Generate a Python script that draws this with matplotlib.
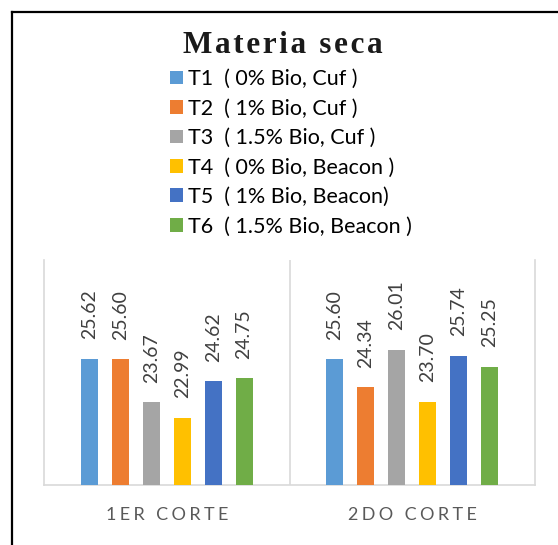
import matplotlib
matplotlib.use("Agg")
import matplotlib.pyplot as plt
from matplotlib.patches import Patch
from matplotlib.lines import Line2D
import numpy as np

CATEGORIES = ["1ER CORTE", "2DO CORTE"]
SERIES = [
    "T1  ( 0% Bio, Cuf )",
    "T2  ( 1% Bio, Cuf )",
    "T3  ( 1.5% Bio, Cuf )",
    "T4  ( 0% Bio, Beacon )",
    "T5  ( 1% Bio, Beacon)",
    "T6  ( 1.5% Bio, Beacon )",
]
VALUES = [
    [25.62, 25.60],
    [25.60, 24.34],
    [23.67, 26.01],
    [22.99, 23.70],
    [24.62, 25.74],
    [24.75, 25.25],
]
COLORS = ["#5B9BD5", "#ED7D31", "#A5A5A5", "#FFC000", "#4472C4", "#70AD47"]

FONT = "Lato"
GRID = "#D9D9D9"


def spaced(s, sep="\u2009"):
    return sep.join(s)


fig = plt.figure(figsize=(5.58, 5.45), dpi=100)
fig.patch.set_facecolor("white")
ax = fig.add_axes([0.0789, 0.1101, 0.8799, 0.4128])

x = np.arange(len(CATEGORIES))
pitch = 0.126
width = 0.069
for i, (vals, color) in enumerate(zip(VALUES, COLORS)):
    bars = ax.bar(x + (i - 2.5) * pitch, vals, width, color=color, zorder=3)
    ax.bar_label(bars, labels=[f"{v:.2f}" for v in vals], rotation=90,
                 padding=14, fontsize=14, family=FONT, color="#404040")

ax.set_xlim(-0.5, 1.5)
ax.set_ylim(20, 30)
ax.set_yticks([])
ax.set_xticks(x)
ax.set_xticklabels([spaced(c, "\u2009\u200a") for c in CATEGORIES], family=FONT,
                   fontsize=13, color="#595959")
ax.tick_params(axis="x", length=0, pad=16)
ax.axvline(0.5, color=GRID, linewidth=1.2, zorder=1)
ax.spines["top"].set_visible(False)
for side in ["left", "right", "bottom"]:
    ax.spines[side].set_color(GRID)
    ax.spines[side].set_linewidth(1.2)

# title with wide letter spacing
fig.text(183 / 558, 1 - 53 / 545, spaced("Materia seca", "\u200a"),
         ha="left", va="baseline", family="Liberation Serif",
         fontweight="bold", fontsize=22.5, color="#1a1a1a")

handles = [Patch(facecolor=c, edgecolor="none") for c in COLORS]
fig.legend(handles, SERIES, loc="upper left", bbox_to_anchor=(170 / 558, 1 - 69 / 545),
           frameon=False, prop={"family": FONT, "size": 15.5},
           handlelength=0.6, handleheight=0.6, handletextpad=0.25,
           labelspacing=0.44, borderpad=0, borderaxespad=0)

# outer border (top and left edges)
fig.add_artist(Line2D([12 / 558, 1.0], [1 - 12 / 545, 1 - 12 / 545],
                      transform=fig.transFigure, color="black", linewidth=1.6))
fig.add_artist(Line2D([12 / 558, 12 / 558], [0.0, 1 - 12 / 545],
                      transform=fig.transFigure, color="black", linewidth=1.6))

fig.savefig("out.png", dpi=100)
